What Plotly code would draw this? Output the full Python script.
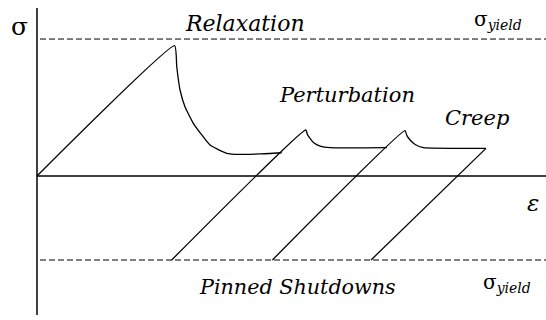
import plotly.graph_objects as go

# Stress is normalised so that the upper yield stress equals 1.
SIGMA_YIELD_TOP = 1.0
SIGMA_YIELD_BOTTOM = -0.613

# Initial loading followed by stress relaxation (strain, stress)
relax_eps = [0.0, 1.005, 1.020, 1.044, 1.080, 1.141, 1.263, 1.385, 1.482, 1.628, 1.786]
relax_sig = [0.0, 0.951, 0.798, 0.628, 0.506, 0.385, 0.226, 0.166, 0.158, 0.161, 0.170]

# First perturbation: reload from the pinned shutdown level, then creep
pert1_eps = [0.983, 1.961, 1.975, 1.993, 2.020, 2.066, 2.139, 2.553]
pert1_sig = [-0.613, 0.336, 0.300, 0.275, 0.243, 0.219, 0.207, 0.207]

# Second perturbation
pert2_eps = [1.718, 2.686, 2.700, 2.723, 2.760, 2.820, 3.277]
pert2_sig = [-0.613, 0.331, 0.295, 0.263, 0.230, 0.207, 0.202]

# Final reload into the creep level
pert3_eps = [2.438, 3.277]
pert3_sig = [-0.613, 0.202]

X_RANGE = [-0.270, 3.715]
Y_RANGE = [-1.051, 1.285]

fig = go.Figure()

curve_style = dict(color="black", width=1.3)
for xs, ys in [(relax_eps, relax_sig), (pert1_eps, pert1_sig),
               (pert2_eps, pert2_sig), (pert3_eps, pert3_sig)]:
    fig.add_trace(go.Scatter(x=xs, y=ys, mode="lines", line=curve_style,
                             line_shape="spline", line_smoothing=0.4,
                             hoverinfo="skip", showlegend=False))

# Axes drawn through the origin
fig.add_shape(type="line", x0=0, x1=0, y0=-1.015, y1=1.226,
              line=dict(color="black", width=1.5))
fig.add_shape(type="line", x0=0, x1=X_RANGE[1], y0=0, y1=0,
              line=dict(color="black", width=1.5))

# Yield stress levels
for level in (SIGMA_YIELD_TOP, SIGMA_YIELD_BOTTOM):
    fig.add_shape(type="line", x0=0.022, x1=X_RANGE[1], y0=level, y1=level,
                  line=dict(color="black", width=1, dash="6px,3px"))

serif = "DejaVu Serif"
labels = [
    ("σ", -0.131, 1.095, 25),
    ("<i>Relaxation</i>", 1.515, 1.112, 22),
    ("σ<sub><i>yield</i></sub>", 3.365, 1.140, 20),
    ("<i>Perturbation</i>", 2.266, 0.595, 21),
    ("<i>Creep</i>", 3.215, 0.420, 21),
    ("<i>ε</i>", 3.620, -0.200, 23),
    ("<i>Pinned Shutdowns</i>", 1.901, -0.810, 20.7),
    ("σ<sub><i>yield</i></sub>", 3.431, -0.780, 20),
]
for text, x, y, size in labels:
    fig.add_annotation(x=x, y=y, text=text, showarrow=False,
                       xanchor="center", yanchor="middle",
                       font=dict(family=serif, size=size, color="black"))

fig.update_layout(
    width=546, height=320,
    margin=dict(l=0, r=0, t=0, b=0),
    paper_bgcolor="white", plot_bgcolor="white",
    font=dict(family=serif),
    xaxis=dict(range=X_RANGE, visible=False, fixedrange=True),
    yaxis=dict(range=Y_RANGE, visible=False, fixedrange=True),
    showlegend=False,
)

fig.write_html("out.html")
